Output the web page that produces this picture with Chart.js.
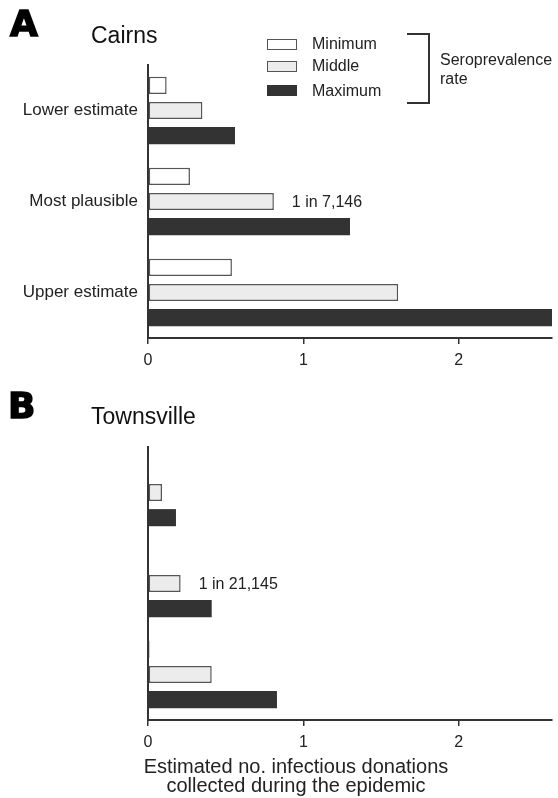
<!DOCTYPE html>
<html lang="en">

<head>
    <meta charset="UTF-8">
    <title>Infectious donations</title>
    <script src="https://cdn.jsdelivr.net/npm/chart.js"></script>
    <style>
        body {
            margin: 0;
            background: #fff;
            font-family: "Liberation Sans", Arial, sans-serif;
            color: #222;
        }

        .wrap {
            position: relative;
            width: 558px;
            height: 798px;
            overflow: hidden;
        }

        .wrap canvas {
            position: absolute;
            left: 0;
        }

        .txt {
            position: absolute;
            line-height: 1;
            white-space: nowrap;
        }

        .letter {
            font-family: "DejaVu Sans", sans-serif;
            font-size: 36px;
            font-weight: bold;
            color: #000;
            -webkit-text-stroke: 1.5px #000;
        }

        .city {
            font-size: 23px;
            color: #111;
        }

        .leg {
            font-size: 16px;
        }

        .box {
            position: absolute;
            left: 267px;
            width: 28px;
            height: 9px;
            border: 1px solid #555;
        }

        .bracket {
            position: absolute;
            left: 407px;
            top: 33px;
            width: 21px;
            height: 67px;
            border: 2px solid #333;
            border-left: none;
        }
    </style>
</head>

<body>
    <div class="wrap">
        <canvas id="cairnsChart" width="558" height="380" style="top:0"></canvas>
        <canvas id="townsvilleChart" width="558" height="380" style="top:380px"></canvas>

        <div class="txt letter" style="left:10px; top:6px">A</div>
        <div class="txt city" style="left:91px; top:24px">Cairns</div>

        <div class="box" style="top:39px; background:#fff"></div>
        <div class="box" style="top:61px; background:#ececec"></div>
        <div class="box" style="top:85px; background:#333; border-color:#333"></div>
        <div class="txt leg" style="left:312px; top:36px">Minimum</div>
        <div class="txt leg" style="left:312px; top:58px">Middle</div>
        <div class="txt leg" style="left:312px; top:83px">Maximum</div>
        <div class="bracket"></div>
        <div class="txt leg" style="left:440px; top:50px; line-height:19px">Seroprevalence<br>rate</div>

        <div class="txt letter" style="left:8px; top:388px">B</div>
        <div class="txt city" style="left:91px; top:405px">Townsville</div>

        <div class="txt" style="left:96px; width:400px; top:757px; font-size:20px; line-height:19px; text-align:center">
            Estimated no. infectious donations<br>collected during the epidemic</div>
    </div>

    <script>
        // scenarios (same three for both cities)
        var scenarios = ['Lower estimate', 'Most plausible', 'Upper estimate'];
        var xTicks = [0, 1, 2];

        // Cairns: estimated no. infectious donations
        var cairnsMin = [0.12, 0.27, 0.54];
        var cairnsMid = [0.35, 0.81, 1.61];
        var cairnsMax = [0.56, 1.30, 2.60];

        // Townsville
        var townsMin = [0.002, 0.004, 0.01];
        var townsMid = [0.09, 0.21, 0.41];
        var townsMax = [0.18, 0.41, 0.83];

        var cairnsNote = '1 in 7,146';
        var townsNote = '1 in 21,145';

        var FONT = '"Liberation Sans", Arial, sans-serif';

        // writes the "1 in ..." text beside the middle bar of "Most plausible"
        var notePlugin = {
            id: 'note',
            afterDatasetsDraw: function (chart, args, opts) {
                var bar = chart.getDatasetMeta(1).data[1];
                var ctx = chart.ctx;
                ctx.save();
                ctx.font = '16px ' + FONT;
                ctx.fillStyle = '#222';
                ctx.textBaseline = 'middle';
                ctx.fillText(opts.text, bar.x + 18, bar.y + 1);
                ctx.restore();
            }
        };

        function makeChart(id, mins, mids, maxs, note, showLabels, topPad) {
            var ctx = document.getElementById(id).getContext('2d');
            return new Chart(ctx, {
                type: 'bar',
                data: {
                    labels: scenarios,
                    datasets: [{
                        label: 'Minimum',
                        data: mins,
                        backgroundColor: '#ffffff',
                        borderColor: '#555',
                        borderWidth: 1.5,
                        borderSkipped: false
                    }, {
                        label: 'Middle',
                        data: mids,
                        backgroundColor: '#ececec',
                        borderColor: '#555',
                        borderWidth: 1.5,
                        borderSkipped: false
                    }, {
                        label: 'Maximum',
                        data: maxs,
                        backgroundColor: '#333',
                        borderColor: '#333',
                        borderWidth: 0
                    }]
                },
                options: {
                    indexAxis: 'y',
                    responsive: false,
                    animation: false,
                    devicePixelRatio: 1,
                    categoryPercentage: 0.83,
                    barPercentage: 0.68,
                    layout: { padding: { top: topPad, right: 6, left: 0, bottom: 0 } },
                    plugins: {
                        legend: { display: false },
                        tooltip: { enabled: false },
                        note: { text: note }
                    },
                    scales: {
                        x: {
                            min: 0,
                            max: 2.6,
                            afterFit: function (s) { s.height = 380 - 338 - (topPad - 65); },
                            afterBuildTicks: function (s) {
                                s.ticks = xTicks.map(function (v) { return { value: v }; });
                            },
                            grid: {
                                display: true,
                                drawOnChartArea: false,
                                drawTicks: true,
                                tickLength: 6,
                                color: '#333',
                                lineWidth: 1.5
                            },
                            border: { display: true, color: '#333', width: 2 },
                            ticks: {
                                padding: 7,
                                color: '#222',
                                font: { family: FONT, size: 16 }
                            }
                        },
                        y: {
                            afterFit: function (s) { s.width = 148; },
                            grid: { display: true, drawOnChartArea: false, drawTicks: false },
                            border: { display: true, color: '#333', width: 2 },
                            ticks: {
                                display: showLabels,
                                padding: 10,
                                color: '#222',
                                font: { family: FONT, size: 17 }
                            }
                        }
                    }
                },
                plugins: [notePlugin]
            });
        }

        makeChart('cairnsChart', cairnsMin, cairnsMid, cairnsMax, cairnsNote, true, 65);
        makeChart('townsvilleChart', townsMin, townsMid, townsMax, townsNote, false, 67);
    </script>
</body>

</html>
